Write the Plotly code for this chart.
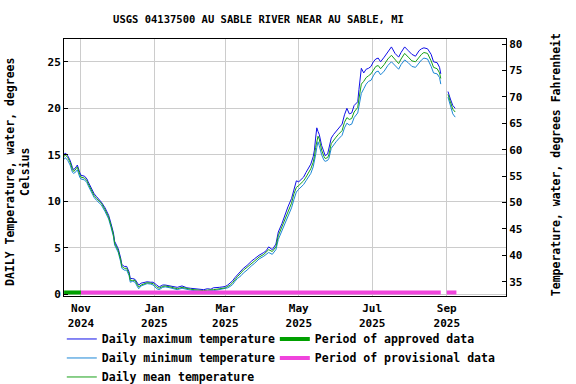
import plotly.graph_objects as go

# ---------------- data ----------------
dates = [
    "2024-10-18", "2024-10-19", "2024-10-21", "2024-10-23", "2024-10-25", "2024-10-26",
    "2024-10-28", "2024-10-29", "2024-10-31", "2024-11-01", "2024-11-04", "2024-11-06",
    "2024-11-07", "2024-11-10", "2024-11-12", "2024-11-14", "2024-11-16", "2024-11-18",
    "2024-11-21", "2024-11-24", "2024-11-26", "2024-11-28", "2024-11-29", "2024-12-01",
    "2024-12-02", "2024-12-04", "2024-12-05", "2024-12-07", "2024-12-09", "2024-12-11",
    "2024-12-12", "2024-12-14", "2024-12-16", "2024-12-18", "2024-12-19", "2024-12-21",
    "2024-12-24", "2024-12-26", "2024-12-29", "2024-12-31", "2025-01-03", "2025-01-05",
    "2025-01-08", "2025-01-10", "2025-01-14", "2025-01-17", "2025-01-20", "2025-01-24",
    "2025-01-28", "2025-01-31", "2025-02-03", "2025-02-06", "2025-02-08", "2025-02-11",
    "2025-02-14", "2025-02-17", "2025-02-19", "2025-02-22", "2025-02-24", "2025-02-27",
    "2025-03-01", "2025-03-03", "2025-03-05", "2025-03-07", "2025-03-09", "2025-03-11",
    "2025-03-14", "2025-03-16", "2025-03-19", "2025-03-21", "2025-03-23", "2025-03-25",
    "2025-03-27", "2025-03-29", "2025-04-02", "2025-04-04", "2025-04-06", "2025-04-09",
    "2025-04-12", "2025-04-14", "2025-04-17", "2025-04-19", "2025-04-22", "2025-04-25",
    "2025-04-27", "2025-04-29", "2025-05-01", "2025-05-03", "2025-05-05", "2025-05-07",
    "2025-05-09", "2025-05-11", "2025-05-13", "2025-05-14", "2025-05-15", "2025-05-16",
    "2025-05-17", "2025-05-18", "2025-05-20", "2025-05-22", "2025-05-23", "2025-05-25",
    "2025-05-26", "2025-05-28", "2025-05-30", "2025-06-01", "2025-06-03", "2025-06-06",
    "2025-06-08", "2025-06-10", "2025-06-12", "2025-06-14", "2025-06-16", "2025-06-19",
    "2025-06-20", "2025-06-22", "2025-06-24", "2025-06-26", "2025-06-28", "2025-06-30",
    "2025-07-02", "2025-07-04", "2025-07-06", "2025-07-08", "2025-07-11", "2025-07-14",
    "2025-07-17", "2025-07-20", "2025-07-23", "2025-07-25", "2025-07-28", "2025-07-31",
    "2025-08-03", "2025-08-06", "2025-08-09", "2025-08-11", "2025-08-13", "2025-08-16",
    "2025-08-19", "2025-08-21", "2025-08-24", "2025-08-26", "2025-08-27", "2025-08-30",
    "2025-09-02", "2025-09-03", "2025-09-04", "2025-09-06", "2025-09-08",
]

t_mean = [
    14.8, 15.0, 14.7, 14.2, 13.4, 13.2,
    13.5, 13.7, 12.9, 12.6, 12.5, 12.2,
    11.9, 11.0, 10.6, 10.3, 10.0, 9.8,
    9.1, 8.3, 7.4, 6.4, 5.5, 5.0,
    4.7, 3.7, 3.0, 2.8, 2.8, 2.2,
    1.5, 1.5, 1.5, 1.0, 0.8, 1.0,
    1.2, 1.25, 1.2, 1.15, 0.8, 0.65,
    0.85, 0.9, 0.8, 0.7, 0.6, 0.75,
    0.6, 0.55, 0.5, 0.45, 0.45, 0.4,
    0.45, 0.45, 0.5, 0.55, 0.6, 0.65,
    0.7, 0.85, 1.0, 1.25, 1.6, 1.9,
    2.3, 2.6, 2.9, 3.1, 3.4, 3.6,
    3.8, 4.0, 4.3, 4.5, 4.8, 4.6,
    5.1, 6.3, 7.2, 8.0, 8.9, 9.8,
    10.8, 11.5, 11.7, 11.9, 12.2, 12.6,
    13.0, 13.5, 14.2, 14.8, 15.8, 16.5,
    17.0, 16.7, 15.5, 14.8, 14.6, 14.7,
    15.0, 16.2, 16.6, 16.9, 17.2, 17.6,
    18.5, 19.0, 18.8, 18.9, 19.6, 20.1,
    21.0, 22.6, 22.9, 23.3, 23.5, 23.7,
    24.1, 24.5, 24.6, 24.25, 24.7, 25.3,
    25.7, 25.25, 24.8, 25.3, 25.9, 25.5,
    25.1, 25.0, 25.5, 25.8, 26.0, 25.9,
    25.1, 24.4, 24.25, 23.8, 23.2, None,
    21.5, 21.2, 20.7, 19.9, 19.6,
]

t_max = [
    15.0, 15.2, 14.9, 14.4, 13.6, 13.4,
    13.7, 13.9, 13.1, 12.8, 12.7, 12.4,
    12.1, 11.2, 10.8, 10.5, 10.2, 9.9,
    9.3, 8.5, 7.6, 6.6, 5.7, 5.2,
    4.9, 3.9, 3.2, 3.0, 3.0, 2.4,
    1.7, 1.7, 1.6, 1.2, 1.0, 1.2,
    1.3, 1.35, 1.3, 1.3, 1.0, 0.8,
    1.0, 1.0, 0.9, 0.85, 0.75, 0.9,
    0.7, 0.65, 0.6, 0.6, 0.55, 0.5,
    0.6, 0.55, 0.7, 0.7, 0.75, 0.8,
    0.85, 1.0, 1.2, 1.45, 1.8, 2.1,
    2.5, 2.8, 3.1, 3.4, 3.6, 3.8,
    4.0, 4.2, 4.5, 4.7, 5.1, 4.8,
    5.4, 6.7, 7.6, 8.4, 9.4, 10.3,
    11.4, 12.2, 12.1, 12.3, 12.6, 13.1,
    13.5, 14.0, 14.8, 15.5, 16.8, 17.9,
    17.5, 17.2, 16.0, 15.2, 14.9, 15.1,
    15.6, 16.8, 17.2, 17.5, 17.8, 18.3,
    19.3, 20.0, 19.4, 19.5, 20.3, 20.7,
    22.0, 24.3, 23.8, 24.2, 24.3, 24.5,
    25.0, 25.3, 25.4, 25.0, 25.5, 26.0,
    26.6, 25.9, 25.5, 26.0, 26.6, 26.2,
    25.8, 25.6, 26.2, 26.4, 26.5, 26.4,
    25.8, 25.0, 24.9, 24.4, 23.7, None,
    21.8, 21.5, 21.0, 20.3, 20.0,
]

t_min = [
    14.5, 14.7, 14.4, 13.9, 13.1, 13.0,
    13.2, 13.4, 12.6, 12.4, 12.3, 12.0,
    11.7, 10.8, 10.4, 10.1, 9.8, 9.6,
    8.9, 8.1, 7.2, 6.2, 5.3, 4.8,
    4.5, 3.5, 2.8, 2.6, 2.6, 2.0,
    1.3, 1.4, 1.3, 0.8, 0.6, 0.9,
    1.1, 1.15, 1.1, 1.0, 0.6, 0.5,
    0.75, 0.8, 0.7, 0.6, 0.5, 0.65,
    0.5, 0.45, 0.4, 0.35, 0.35, 0.3,
    0.35, 0.35, 0.4, 0.45, 0.5, 0.55,
    0.6, 0.7, 0.85, 1.05, 1.4, 1.7,
    2.0, 2.3, 2.6, 2.9, 3.1, 3.3,
    3.6, 3.8, 4.1, 4.3, 4.5, 4.3,
    4.8, 5.9, 6.8, 7.6, 8.5, 9.3,
    10.2, 11.0, 11.3, 11.5, 11.8, 12.2,
    12.6, 13.0, 13.7, 14.2, 15.0, 15.8,
    16.4, 16.0, 15.0, 14.4, 14.3, 14.4,
    14.6, 15.7, 16.1, 16.4, 16.7, 17.1,
    17.9, 18.4, 18.2, 18.3, 19.0, 19.5,
    20.2, 21.6, 22.1, 22.6, 22.9, 23.0,
    23.5, 23.9, 24.0, 23.6, 24.0, 24.6,
    25.0, 24.6, 24.2, 24.7, 25.2, 24.9,
    24.5, 24.4, 24.9, 25.2, 25.4, 25.3,
    24.5, 23.8, 23.7, 23.3, 22.6, None,
    21.2, 20.8, 20.3, 19.4, 19.05,
]

approved_start = ["2024-10-18"]
approved_end = ["2024-11-01"]
provisional_start = ["2024-11-01", "2025-09-01"]
provisional_end = ["2025-08-27", "2025-09-09"]

x_tick_dates = ["2024-11-01", "2025-01-01", "2025-03-01", "2025-05-01", "2025-07-01", "2025-09-01"]
x_tick_labels = ["Nov<br>2024", "Jan<br>2025", "Mar<br>2025", "May<br>2025", "Jul<br>2025", "Sep<br>2025"]
yc_ticks = [0, 5, 10, 15, 20, 25]
yf_ticks = [35, 40, 45, 50, 55, 60, 65, 70, 75, 80]

title_text = "USGS 04137500 AU SABLE RIVER NEAR AU SABLE, MI"
left_title = "DAILY Temperature, water, degrees<br>Celsius"
right_title = "Temperature, water, degrees Fahrenheit"

# ---------------- styles ----------------
FONT = "DejaVu Sans Mono"
C_MAX = "#1010E8"
C_MIN = "#1C86D6"
C_MEAN = "#18A018"
C_APPROVED = "#00A000"
C_PROV = "#F044DC"
BAR_LEVEL = 0.2

fig = go.Figure()

fig.add_trace(go.Scatter(x=dates, y=t_max, mode="lines", name="Daily maximum temperature",
                         line=dict(color=C_MAX, width=1), legend="legend"))
fig.add_trace(go.Scatter(x=dates, y=t_min, mode="lines", name="Daily minimum temperature",
                         line=dict(color=C_MIN, width=1), legend="legend"))
fig.add_trace(go.Scatter(x=dates, y=t_mean, mode="lines", name="Daily mean temperature",
                         line=dict(color=C_MEAN, width=1), legend="legend"))

# period bars
ax, ay = [], []
for s, e in zip(approved_start, approved_end):
    ax += [s, e, None]
    ay += [BAR_LEVEL, BAR_LEVEL, None]
px_, py_ = [], []
for s, e in zip(provisional_start, provisional_end):
    px_ += [s, e, None]
    py_ += [BAR_LEVEL, BAR_LEVEL, None]

fig.add_trace(go.Scatter(x=ax, y=ay, mode="lines", name="Period of approved data",
                         line=dict(color=C_APPROVED, width=4), legend="legend2"))
fig.add_trace(go.Scatter(x=px_, y=py_, mode="lines", name="Period of provisional data",
                         line=dict(color=C_PROV, width=4), legend="legend2"))

# invisible trace to activate the Fahrenheit axis
fig.add_trace(go.Scatter(x=dates, y=[None if v is None else v * 1.8 + 32 for v in t_mean],
                         yaxis="y2", mode="lines", line=dict(width=0), opacity=0,
                         showlegend=False, hoverinfo="skip"))

legend_font = dict(family=FONT, size=11.5, color="black", weight="bold")
axis_title_font = dict(family=FONT, size=11.5, color="black", weight="bold")

fig.update_layout(
    width=576, height=384,
    margin=dict(l=64, r=70, t=39, b=88, autoexpand=False),
    paper_bgcolor="white", plot_bgcolor="white",
    font=dict(family=FONT, size=11, color="black"),
    title=dict(text=title_text,
               x=0.4488, xanchor="center", y=0.95, yanchor="middle",
               font=dict(family=FONT, size=10.5, color="black", weight="bold")),
    xaxis=dict(
        type="date",
        range=["2024-10-17 22:00", "2025-10-20 05:00"],
        tickmode="array", tickvals=x_tick_dates, ticktext=x_tick_labels,
        showgrid=True, gridcolor="#cccccc", gridwidth=1,
        showline=True, linecolor="black", linewidth=1, mirror=True,
        ticks="", ticklabelstandoff=2,
        tickfont=dict(family=FONT, size=11, color="black", weight="bold"),
        zeroline=False,
    ),
    yaxis=dict(
        range=[-0.18, 27.45],
        tickmode="array", tickvals=yc_ticks,
        showgrid=True, gridcolor="#cccccc", gridwidth=1,
        showline=True, linecolor="black", linewidth=1, mirror=True,
        ticks="inside", ticklen=4, tickcolor="black",
        tickfont=dict(family=FONT, size=11, color="black", weight="bold"),
        zeroline=False,
    ),
    yaxis2=dict(
        overlaying="y", side="right",
        range=[32.3, 80.95],
        tickmode="array", tickvals=yf_ticks,
        showgrid=False, zeroline=False,
        showline=True, linecolor="black", linewidth=1,
        ticks="inside", ticklen=4, tickcolor="black",
        tickfont=dict(family=FONT, size=11, color="black", weight="bold"),
    ),
    legend=dict(xref="container", yref="container", x=0.1073, xanchor="left",
                y=0.155, yanchor="top",
                orientation="v", bgcolor="rgba(0,0,0,0)", tracegroupgap=0,
                font=legend_font),
    legend2=dict(xref="container", yref="container", x=0.4771, xanchor="left",
                 y=0.155, yanchor="top",
                 orientation="v", bgcolor="rgba(0,0,0,0)", tracegroupgap=0,
                 font=legend_font),
    showlegend=True,
    annotations=[
        dict(text=left_title, xref="paper", yref="paper", x=-0.104, y=0.4825,
             xanchor="center", yanchor="middle", textangle=-90, showarrow=False,
             align="center", font=axis_title_font),
        dict(text=right_title, xref="paper", yref="paper", x=1.1147, y=0.5117,
             xanchor="center", yanchor="middle", textangle=-90, showarrow=False,
             align="center", font=axis_title_font),
    ],
)

fig.write_html("out.html", config={"displayModeBar": False},
               post_script="document.body.style.margin='0px';")
